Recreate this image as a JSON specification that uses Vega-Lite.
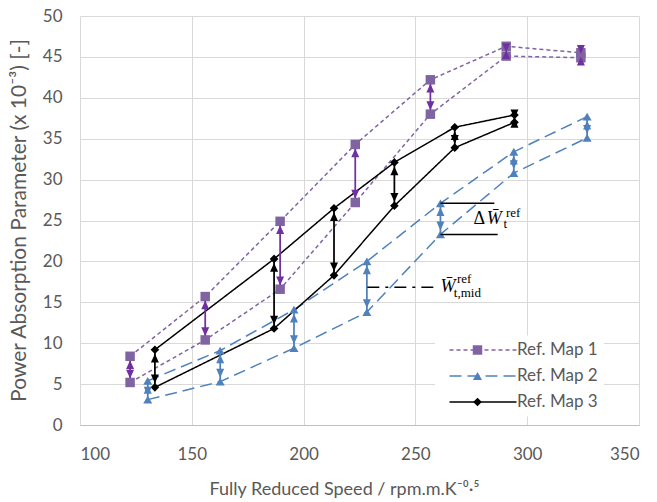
{
  "$schema": "https://vega.github.io/schema/vega-lite/v6.json",
  "width": 559,
  "height": 409,
  "autosize": "none",
  "padding": {"left": 80, "top": 16, "right": 18, "bottom": 77},
  "background": "white",
  "datasets": {
    "maps": [
      {"s": "Ref. Map 1", "x": 122.4, "hi": 8.4, "lo": 5.2},
      {"s": "Ref. Map 1", "x": 156.0, "hi": 15.7, "lo": 10.4},
      {"s": "Ref. Map 1", "x": 189.5, "hi": 24.9, "lo": 16.6},
      {"s": "Ref. Map 1", "x": 223.1, "hi": 34.3, "lo": 27.2},
      {"s": "Ref. Map 1", "x": 256.7, "hi": 42.2, "lo": 38.0},
      {"s": "Ref. Map 1", "x": 290.6, "hi": 46.3, "lo": 45.1},
      {"s": "Ref. Map 1", "x": 324.0, "hi": 45.5, "lo": 44.9},
      {"s": "Ref. Map 2", "x": 130.3, "hi": 5.4, "lo": 3.1},
      {"s": "Ref. Map 2", "x": 162.7, "hi": 9.1, "lo": 5.3},
      {"s": "Ref. Map 2", "x": 195.7, "hi": 14.1, "lo": 9.4},
      {"s": "Ref. Map 2", "x": 228.3, "hi": 20.0, "lo": 13.8},
      {"s": "Ref. Map 2", "x": 261.2, "hi": 27.1, "lo": 23.3},
      {"s": "Ref. Map 2", "x": 294.0, "hi": 33.4, "lo": 30.8},
      {"s": "Ref. Map 2", "x": 326.8, "hi": 37.7, "lo": 35.1},
      {"s": "Ref. Map 3", "x": 133.5, "hi": 9.2, "lo": 4.6},
      {"s": "Ref. Map 3", "x": 186.8, "hi": 20.3, "lo": 11.8},
      {"s": "Ref. Map 3", "x": 213.6, "hi": 26.5, "lo": 18.3},
      {"s": "Ref. Map 3", "x": 240.6, "hi": 32.1, "lo": 26.8},
      {"s": "Ref. Map 3", "x": 267.6, "hi": 36.4, "lo": 33.9},
      {"s": "Ref. Map 3", "x": 294.3, "hi": 37.9, "lo": 37.0}
    ],
    "refs": [
      {"kind": "delta", "x": 261.2, "x2": 285.3, "y": 27.1},
      {"kind": "delta", "x": 261.2, "x2": 286.8, "y": 23.3}
    ],
    "mid": [
      {"kind": "mid", "x": 228.5, "x2": 260.3, "y": 16.85}
    ],
    "ann": [
      {"part": "delta", "x": 276.0, "y": 24.6, "t": "Δ"},
      {"part": "main", "x": 281.9, "y": 24.6, "t": "W̄"},
      {"part": "small", "x": 289.4, "y": 24.1, "t": "t"},
      {"part": "small", "x": 290.5, "y": 25.4, "t": "ref"},
      {"part": "main", "x": 261.2, "y": 16.3, "t": "W̄"},
      {"part": "small", "x": 268.6, "y": 17.4, "t": "ref"},
      {"part": "small", "x": 267.2, "y": 15.6, "t": "t,mid"}
    ]
  },
  "encoding": {
    "x": {
      "field": "x",
      "type": "quantitative",
      "scale": {"domain": [100, 350], "nice": false, "zero": false},
      "axis": {
        "values": [100, 150, 200, 250, 300, 350],
        "title": "Fully Reduced Speed / rpm.m.K⁻⁰·⁵",
        "titleX": 264,
        "titleY": 69,
        "titleAlign": "center",
        "titleBaseline": "alphabetic",
        "grid": true
      }
    }
  },
  "layer": [
    {
      "data": {"name": "maps"},
      "transform": [{"fold": ["hi", "lo"], "as": ["k", "v"]}],
      "mark": {"type": "line", "strokeWidth": 1.5},
      "encoding": {
        "y": {
          "field": "v",
          "type": "quantitative",
          "scale": {"domain": [0, 50], "nice": false},
          "axis": {
            "values": [0, 5, 10, 15, 20, 25, 30, 35, 40, 45, 50],
            "title": "Power Absorption Parameter (x 10⁻³) [-]",
            "titleX": -55,
            "titleY": 204,
            "titleAngle": -90,
            "titleAlign": "center",
            "titleBaseline": "alphabetic",
            "titleFontSize": 21,
            "grid": true
          }
        },
        "color": {
          "field": "s",
          "type": "nominal",
          "scale": {"range": ["#8064A2", "#4F81BD", "#000000"]},
          "legend": {
            "title": null, "orient": "none", "legendX": 355, "legendY": 319.5,
            "symbolType": "M0,0H67", "symbolSize": 4, "symbolStrokeWidth": 1.5,
            "labelFont": "Lato", "labelFontSize": 17, "labelColor": "#595959",
            "labelOffset": 59, "rowPadding": 8, "padding": 6, "fillColor": "white"
          }
        },
        "strokeDash": {
          "field": "s",
          "type": "nominal",
          "scale": {"range": [[4, 3], [12, 6], [1, 0]]},
          "legend": {
            "title": null, "orient": "none", "legendX": 355, "legendY": 319.5,
            "symbolType": "M0,0H67", "symbolSize": 4, "symbolStrokeWidth": 1.5,
            "labelFont": "Lato", "labelFontSize": 17, "labelColor": "#595959",
            "labelOffset": 59, "rowPadding": 8, "padding": 6, "fillColor": "white"
          }
        },
        "detail": {"field": "k"}
      }
    },
    {
      "data": {"name": "maps"},
      "mark": {"type": "rule", "strokeWidth": 1.75},
      "encoding": {
        "y": {"field": "lo", "type": "quantitative"},
        "y2": {"field": "hi"},
        "color": {
          "field": "s", "type": "nominal",
          "scale": {"range": ["#7030A0", "#4F81BD", "#000000"]},
          "legend": null
        }
      }
    },
    {
      "data": {"name": "maps"},
      "transform": [{"fold": ["hi", "lo"], "as": ["k", "v"]}],
      "mark": {"type": "point", "filled": true, "opacity": 1},
      "encoding": {
        "y": {"field": "v", "type": "quantitative"},
        "size": {"field": "s", "type": "nominal", "scale": {"range": [90, 75, 100]}, "legend": null},
        "color": {
          "field": "s", "type": "nominal",
          "scale": {"range": ["#8064A2", "#4F81BD", "#000000"]},
          "legend": {
            "title": null, "orient": "none", "legendX": 383, "legendY": 319.5,
            "symbolSize": 80, "labelFont": "Lato", "labelFontSize": 17,
            "labelExpr": "' '", "labelOpacity": 0, "labelOffset": 7, "rowPadding": 8, "padding": 6
          }
        },
        "shape": {
          "field": "s", "type": "nominal",
          "scale": {"range": ["square", "triangle-up", "diamond"]},
          "legend": {
            "title": null, "orient": "none", "legendX": 383, "legendY": 319.5,
            "symbolSize": 80, "labelFont": "Lato", "labelFontSize": 17,
            "labelExpr": "' '", "labelOpacity": 0, "labelOffset": 7, "rowPadding": 8, "padding": 6
          }
        }
      }
    },
    {
      "data": {"name": "maps"},
      "mark": {"type": "point", "filled": true, "opacity": 1, "size": 64, "shape": "M0,1L-1,3.2L1,3.2Z"},
      "encoding": {
        "y": {"field": "hi", "type": "quantitative"},
        "color": {
          "field": "s", "type": "nominal",
          "scale": {"range": ["#7030A0", "#4F81BD", "#000000"]},
          "legend": null
        }
      }
    },
    {
      "data": {"name": "maps"},
      "mark": {"type": "point", "filled": true, "opacity": 1, "size": 64, "shape": "M0,-1L-1,-3.2L1,-3.2Z"},
      "encoding": {
        "y": {"field": "lo", "type": "quantitative"},
        "color": {
          "field": "s", "type": "nominal",
          "scale": {"range": ["#7030A0", "#4F81BD", "#000000"]},
          "legend": null
        }
      }
    },
    {
      "data": {"name": "refs"},
      "mark": {"type": "rule", "color": "#000000", "strokeWidth": 1.5},
      "encoding": {
        "y": {"field": "y", "type": "quantitative"},
        "x2": {"field": "x2"}
      }
    },
    {
      "data": {"name": "mid"},
      "mark": {"type": "rule", "color": "#000000", "strokeWidth": 1.5, "strokeDash": [12, 6, 3, 6]},
      "encoding": {
        "y": {"field": "y", "type": "quantitative"},
        "x2": {"field": "x2"}
      }
    },
    {
      "data": {"name": "ann"},
      "transform": [{"filter": "datum.part == 'delta'"}],
      "mark": {"type": "text", "font": "Liberation Serif", "fontSize": 18, "align": "left", "baseline": "alphabetic", "color": "#000000"},
      "encoding": {
        "y": {"field": "y", "type": "quantitative"},
        "text": {"field": "t"}
      }
    },
    {
      "data": {"name": "ann"},
      "transform": [{"filter": "datum.part == 'main'"}],
      "mark": {"type": "text", "font": "Liberation Serif", "fontSize": 18, "fontStyle": "italic", "align": "left", "baseline": "alphabetic", "color": "#000000"},
      "encoding": {
        "y": {"field": "y", "type": "quantitative"},
        "text": {"field": "t"}
      }
    },
    {
      "data": {"name": "ann"},
      "transform": [{"filter": "datum.part == 'small'"}],
      "mark": {"type": "text", "font": "Liberation Serif", "fontSize": 13, "align": "left", "baseline": "alphabetic", "color": "#000000"},
      "encoding": {
        "y": {"field": "y", "type": "quantitative"},
        "text": {"field": "t"}
      }
    }
  ],
  "resolve": {"scale": {"color": "independent", "shape": "independent", "strokeDash": "independent", "size": "independent"}},
  "config": {
    "view": {"stroke": null},
    "font": "Lato",
    "axis": {
      "gridColor": "#D9D9D9",
      "gridWidth": 1,
      "ticks": false,
      "labelFont": "Lato",
      "labelFontSize": 17,
      "labelColor": "#595959",
      "titleFont": "Lato",
      "titleFontSize": 18,
      "titleColor": "#595959",
      "titleFontWeight": "normal"
    },
    "axisX": {"domainColor": "#BFBFBF", "domainWidth": 1, "labelPadding": 21},
    "axisY": {"domain": false, "labelPadding": 18}
  }
}
